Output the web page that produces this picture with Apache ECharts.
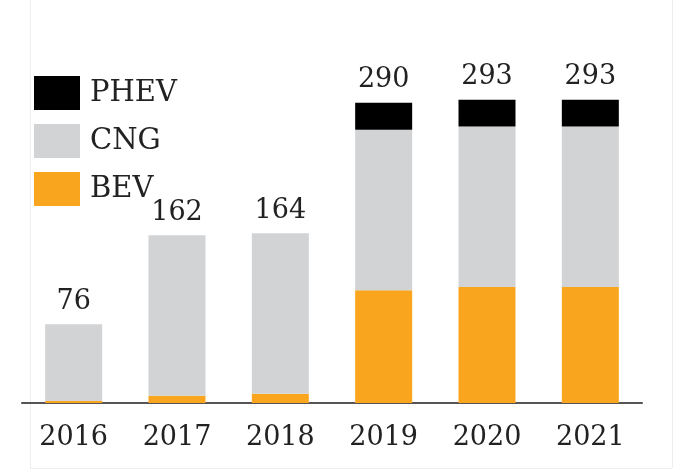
<!DOCTYPE html>
<html>
<head>
<meta charset="utf-8">
<script src="https://cdn.jsdelivr.net/npm/echarts@6/dist/echarts.min.js"></script>
<style>
  html, body { margin: 0; padding: 0; background: #fff; }
  #chart { width: 679px; height: 470px; }
</style>
</head>
<body>
<div id="chart"></div>
<script>
"use strict";
var years = ["2016", "2017", "2018", "2019", "2020", "2021"];
var bev = [2, 7, 9, 109, 112, 112];
var cng = [74, 155, 155, 155, 155, 155];
var phev = [0, 0, 0, 26, 26, 26];
var totals = [76, 162, 164, 290, 293, 293];

var serif = "DejaVu Serif";
var chart = echarts.init(document.getElementById("chart"));

var option = {
    animation: false,
    backgroundColor: "#fff",
    grid: {top: 20, left: 22, right: 37, bottom: 67},
    legend: {
        data: ["PHEV", "CNG", "BEV"],
        orient: "vertical",
        left: 29, top: 71,
        itemWidth: 46, itemHeight: 34, itemGap: 14,
        icon: "rect",
        selectedMode: false,
        textStyle: {fontFamily: serif, fontSize: 29, color: "#222", padding: [0, 0, 0, 5]}
    },
    xAxis: {
        type: "category",
        data: years,
        axisLine: {lineStyle: {color: "#555", width: 2}},
        axisTick: {show: false},
        axisLabel: {fontFamily: serif, fontSize: 27, color: "#222", margin: 21}
    },
    yAxis: {
        type: "value",
        min: 0, max: 370,
        show: false,
        splitLine: {show: false}
    },
    series: [{
        name: "BEV", type: "bar", stack: "t", barWidth: 57,
        itemStyle: {color: "#f9a61e"},
        data: bev
    }, {
        name: "CNG", type: "bar", stack: "t", barWidth: 57,
        itemStyle: {color: "#d1d3d5"},
        data: cng
    }, {
        name: "PHEV", type: "bar", stack: "t", barWidth: 57,
        itemStyle: {color: "#000"},
        label: {
            show: true, position: "top", distance: 9,
            fontFamily: serif, fontSize: 27, color: "#222",
            formatter: function (p) { return totals[p.dataIndex]; }
        },
        data: phev
    }],
    graphic: [
        {type: "line", shape: {x1: 30.5, y1: 0, x2: 30.5, y2: 468}, style: {stroke: "#eee", lineWidth: 1}, silent: true},
        {type: "line", shape: {x1: 30, y1: 468.5, x2: 672, y2: 468.5}, style: {stroke: "#eee", lineWidth: 1}, silent: true},
        {type: "line", shape: {x1: 672.5, y1: 0, x2: 672.5, y2: 468}, style: {stroke: "#eee", lineWidth: 1}, silent: true}
    ]
};
chart.setOption(option);
window.addEventListener("resize", function () { chart.resize(); });
</script>
</body>
</html>
